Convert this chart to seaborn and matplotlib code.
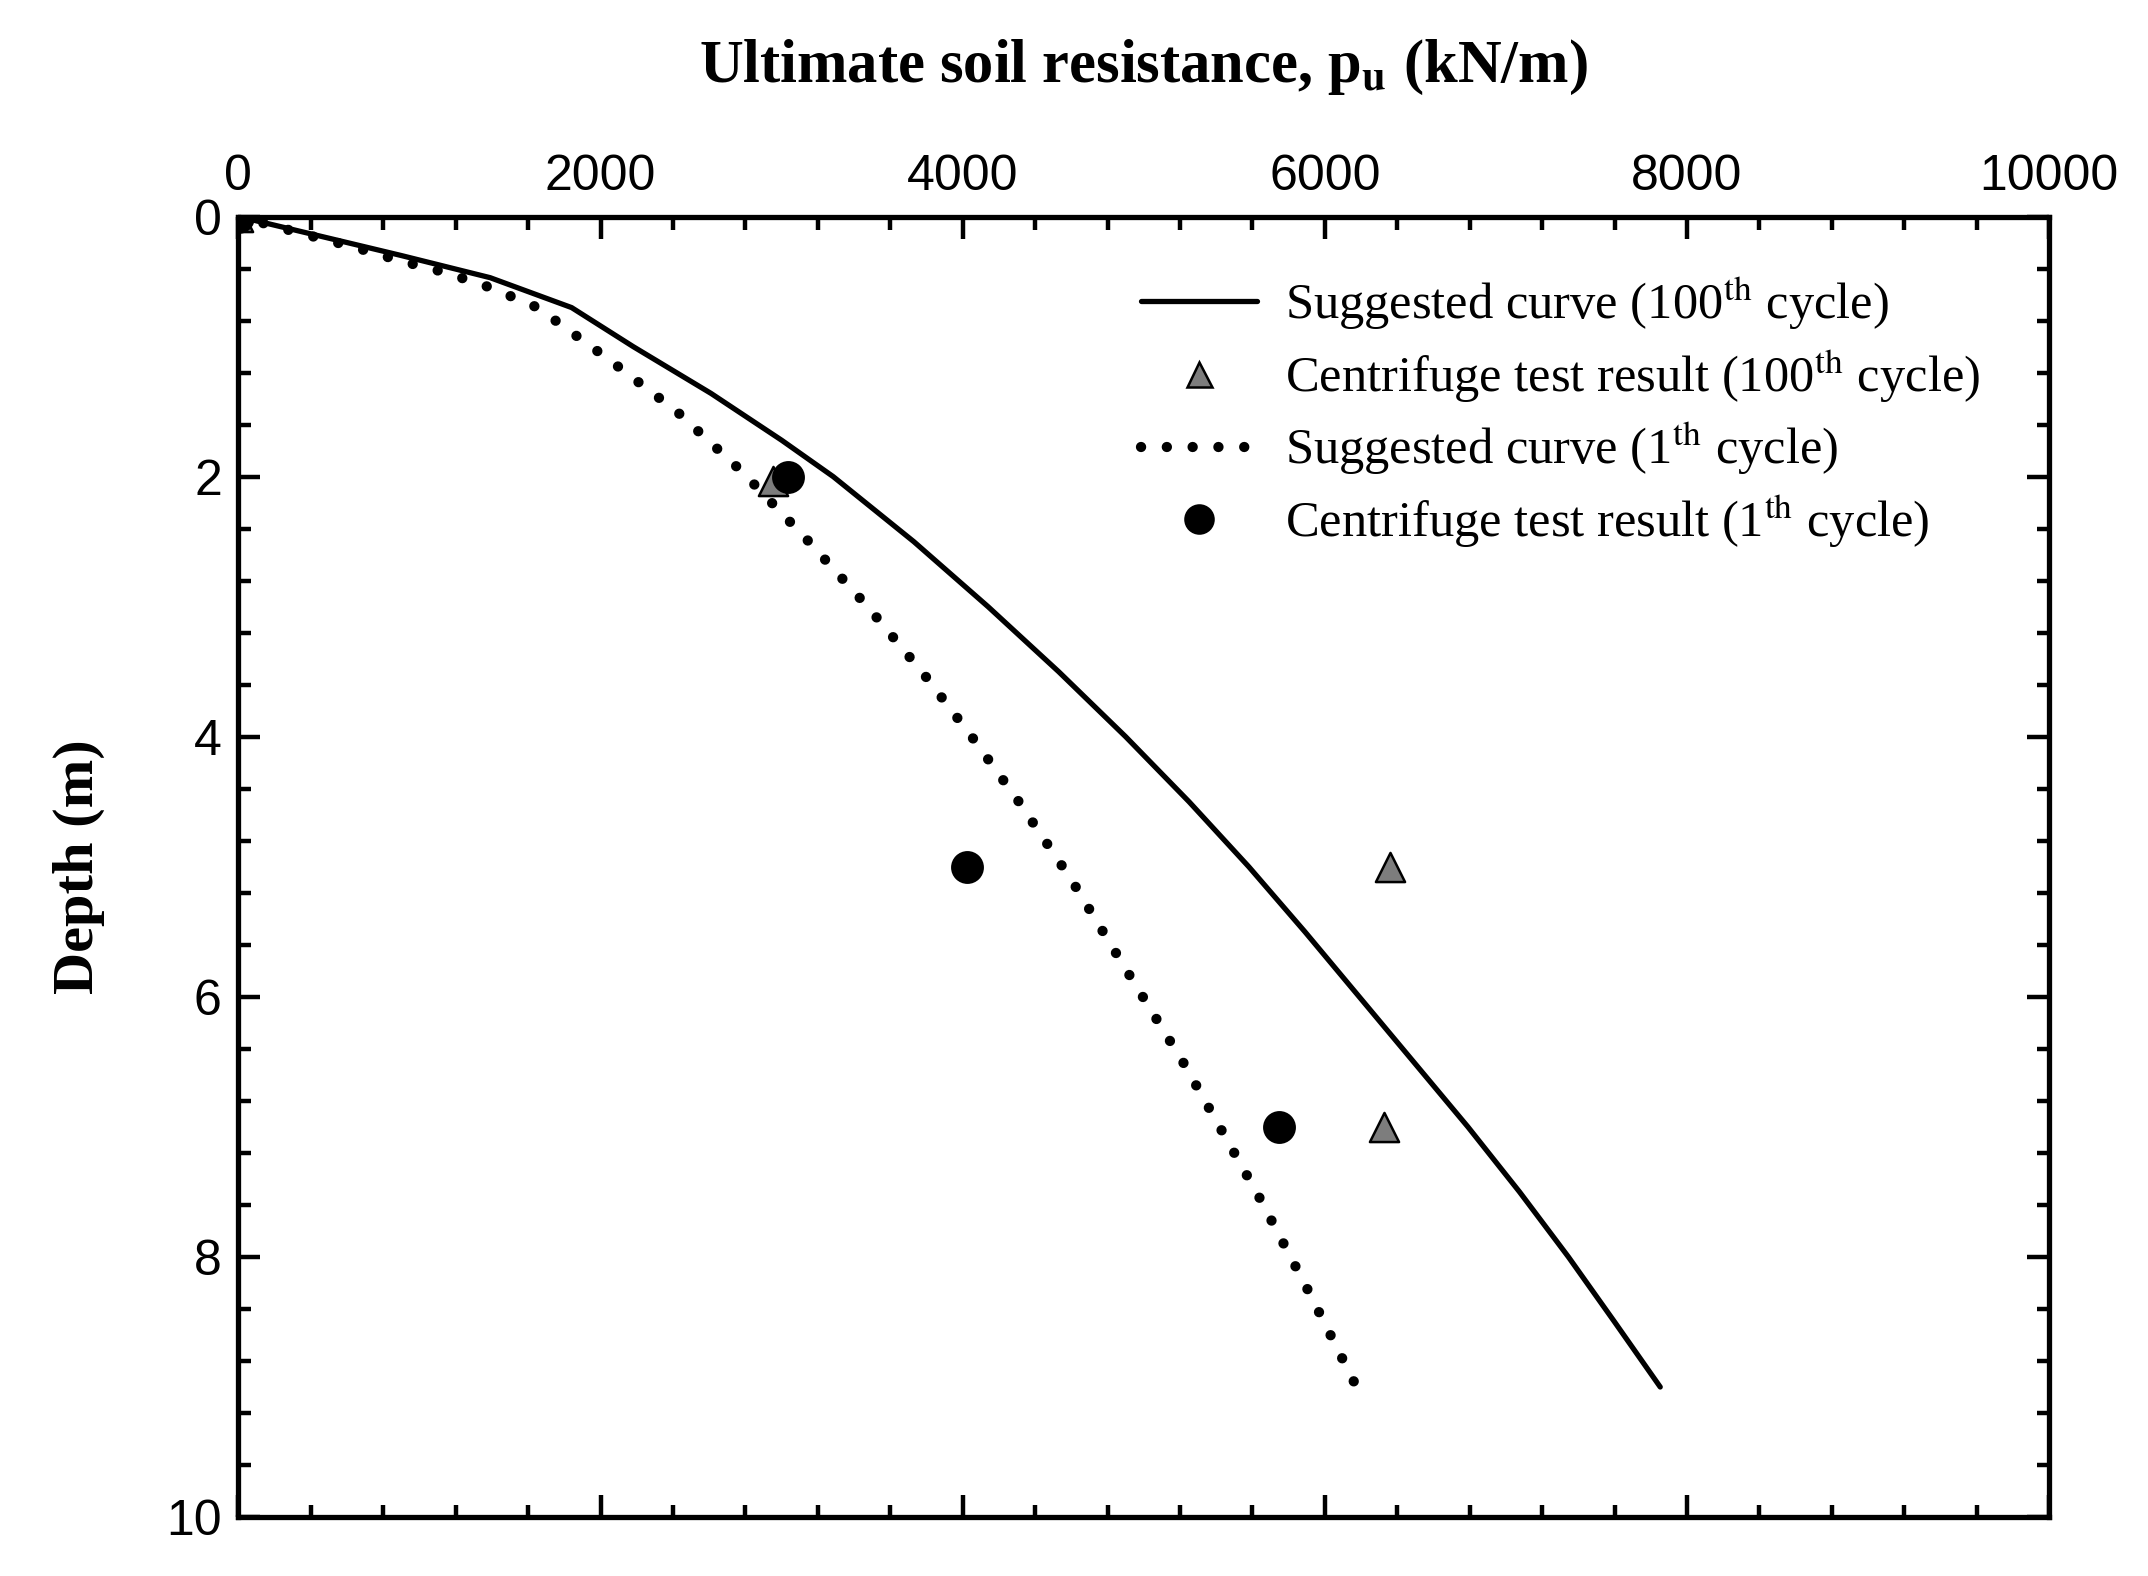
"""
Ultimate soil resistance p_u against depth: suggested curves vs centrifuge test results.
"""

import pandas as pd
import matplotlib
matplotlib.use('Agg')
import matplotlib.pyplot as plt
from matplotlib.lines import Line2D
from matplotlib.ticker import MultipleLocator
import seaborn as sns

# suggested curve, 100th cycle (kN/m vs m)
curve100_pu = [0, 450, 900, 1390, 1840, 2180, 2610, 3000, 3285, 3730, 4140, 4530,
               4900, 5250, 5580, 5890, 6190, 6490, 6790, 7075, 7345, 7600, 7852]
curve100_depth = [0, 0.15, 0.30, 0.47, 0.70, 1.0, 1.36, 1.72, 2.0, 2.5, 3.0, 3.5,
                  4.0, 4.5, 5.0, 5.5, 6.0, 6.5, 7.0, 7.5, 8.0, 8.5, 9.0]

# suggested curve, 1st cycle
curve1_pu = [0, 398, 646, 894, 1143, 1391, 1652, 2037, 2422, 2780, 3137, 3475, 3786,
             4050, 4310, 4600, 4915, 5220, 5435, 5645, 5912, 6175]
curve1_depth = [0, 0.148, 0.238, 0.34, 0.43, 0.546, 0.70, 1.09, 1.50, 1.96, 2.48, 3.0,
                3.52, 4.0, 4.5, 5.1, 5.82, 6.51, 7.04, 7.56, 8.27, 9.0]

# centrifuge tests
test100_pu = [0, 2950, 6361, 6326]
test100_depth = [0, 2.03, 5, 7]
test1_pu = [0, 3036, 4022, 5744]
test1_depth = [0, 2.0, 5, 7]

labels = ['Suggested curve (100$^{\\rm th}$ cycle)',
          'Centrifuge test result (100$^{\\rm th}$ cycle)',
          'Suggested curve (1$^{\\rm th}$ cycle)',
          'Centrifuge test result (1$^{\\rm th}$ cycle)']

sns.set_style('ticks')
plt.rcParams['font.family'] = ['Liberation Sans', 'DejaVu Sans']
plt.rcParams['mathtext.fontset'] = 'stix'
plt.rcParams['text.color'] = 'k'
plt.rcParams['axes.labelcolor'] = 'k'
plt.rcParams['xtick.color'] = 'k'
plt.rcParams['ytick.color'] = 'k'
plt.rcParams['axes.edgecolor'] = 'k'

SERIF = ['Liberation Serif', 'DejaVu Serif']
TRI_GRAY = '#7d7d7d'
DOTS = (0, (0.01, 2.5))


def main():
    c100 = pd.DataFrame({'pu': curve100_pu, 'depth': curve100_depth})
    c1 = pd.DataFrame({'pu': curve1_pu, 'depth': curve1_depth})
    t100 = pd.DataFrame({'pu': test100_pu, 'depth': test100_depth})
    t1 = pd.DataFrame({'pu': test1_pu, 'depth': test1_depth})

    fig = plt.figure(figsize=(10.74, 7.88), dpi=200)
    ax = fig.add_axes([0.111, 0.0374, 0.843, 0.8252])

    sns.lineplot(data=c100, x='pu', y='depth', sort=False, color='k', lw=1.9, ax=ax)
    sns.lineplot(data=c1, x='pu', y='depth', sort=False, color='k', lw=3.7,
                 ls=DOTS, dash_capstyle='round', ax=ax)
    sns.scatterplot(data=t100, x='pu', y='depth', marker='^', s=110, color=TRI_GRAY,
                    edgecolor='k', linewidth=0.9, zorder=5, ax=ax)
    sns.scatterplot(data=t1, x='pu', y='depth', marker='o', s=120, color='k',
                    edgecolor='k', zorder=6, ax=ax)

    ax.set_xlim(0, 10000)
    ax.set_ylim(10, 0)
    ax.xaxis.set_major_locator(MultipleLocator(2000))
    ax.xaxis.set_minor_locator(MultipleLocator(400))
    ax.yaxis.set_major_locator(MultipleLocator(2))
    ax.yaxis.set_minor_locator(MultipleLocator(0.4))
    ax.xaxis.tick_top()
    ax.xaxis.set_label_position('top')
    ax.tick_params(which='both', direction='in', top=True, bottom=True, left=True, right=True,
                   labeltop=True, labelbottom=False, labelleft=True, labelright=False,
                   width=1.6, labelsize=18, pad=6)
    ax.tick_params(which='major', length=8)
    ax.tick_params(which='minor', length=4.5)
    for s in ax.spines.values():
        s.set_linewidth(1.9)

    ax.set_xlabel('Ultimate soil resistance, p$_\\mathbf{u}$ (kN/m)', family=SERIF,
                  fontweight='bold', fontsize=21.8, labelpad=26)
    ax.set_ylabel('Depth (m)', family=SERIF, fontweight='bold', fontsize=21, labelpad=22)

    handles = [
        Line2D([], [], color='k', lw=1.9),
        Line2D([], [], ls='none', marker='^', ms=9, mfc=TRI_GRAY, mec='k', mew=0.9),
        Line2D([], [], color='k', lw=3.7, ls=DOTS, dash_capstyle='round'),
        Line2D([], [], ls='none', marker='o', ms=10, mfc='k', mec='k'),
    ]
    ax.legend(handles, labels, loc='upper right', bbox_to_anchor=(0.973, 0.972),
              frameon=False, borderaxespad=0, handlelength=2.3, handletextpad=0.55,
              labelspacing=0.28, prop={'family': SERIF, 'size': 18.2})

    fig.savefig('out.png', dpi=200)


if __name__ == '__main__':
    main()
